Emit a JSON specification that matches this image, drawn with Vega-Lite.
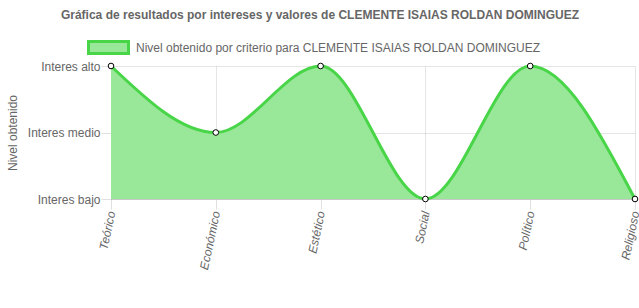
{
  "$schema": "https://vega.github.io/schema/vega-lite/v6.json",
  "width": 524,
  "height": 133,
  "autosize": {"type": "none"},
  "padding": {"left": 111, "top": 66, "right": 4, "bottom": 109},
  "background": "white",
  "title": {
    "text": "Gráfica de resultados por intereses y valores de CLEMENTE ISAIAS ROLDAN DOMINGUEZ",
    "anchor": "middle",
    "dx": -53,
    "offset": 4,
    "font": "Liberation Sans",
    "fontSize": 12,
    "fontWeight": "bold",
    "color": "#666666"
  },
  "data": {
    "values": [
      {"criterio": "Teórico", "nivel": 2, "serie": "Nivel obtenido por criterio para CLEMENTE ISAIAS ROLDAN DOMINGUEZ"},
      {"criterio": "Económico", "nivel": 1, "serie": "Nivel obtenido por criterio para CLEMENTE ISAIAS ROLDAN DOMINGUEZ"},
      {"criterio": "Estético", "nivel": 2, "serie": "Nivel obtenido por criterio para CLEMENTE ISAIAS ROLDAN DOMINGUEZ"},
      {"criterio": "Social", "nivel": 0, "serie": "Nivel obtenido por criterio para CLEMENTE ISAIAS ROLDAN DOMINGUEZ"},
      {"criterio": "Político", "nivel": 2, "serie": "Nivel obtenido por criterio para CLEMENTE ISAIAS ROLDAN DOMINGUEZ"},
      {"criterio": "Religioso", "nivel": 0, "serie": "Nivel obtenido por criterio para CLEMENTE ISAIAS ROLDAN DOMINGUEZ"}
    ]
  },
  "encoding": {
    "x": {
      "field": "criterio",
      "type": "nominal",
      "sort": null,
      "scale": {"type": "point", "padding": 0},
      "axis": {
        "title": null,
        "labelAngle": -78,
        "labelAlign": "right",
        "labelBaseline": "middle",
        "labelFontStyle": "italic",
        "labelPadding": 2,
        "tickSize": 10,
        "tickColor": "#e0e0e0",
        "grid": true,
        "gridColor": "#000000",
        "gridOpacity": 0.1,
        "domainColor": "#c8c8c8"
      }
    },
    "y": {
      "field": "nivel",
      "type": "quantitative",
      "scale": {"domain": [0, 2], "nice": false, "zero": true},
      "axis": {
        "title": "Nivel obtenido",
        "titlePadding": 8,
        "values": [0, 1, 2],
        "labelExpr": "datum.value == 2 ? 'Interes alto' : datum.value == 1 ? 'Interes medio' : 'Interes bajo'",
        "labelPadding": 1,
        "tickSize": 10,
        "tickColor": "#e0e0e0",
        "grid": true,
        "gridColor": "#000000",
        "gridOpacity": 0.1,
        "domainColor": "#a8a8a8"
      }
    }
  },
  "layer": [
    {
      "mark": {"type": "area", "interpolate": "monotone", "opacity": 1},
      "encoding": {
        "color": {
          "field": "serie",
          "type": "nominal",
          "scale": {"range": ["#99e799"]},
          "legend": {
            "title": null,
            "orient": "none",
            "legendX": -24,
            "legendY": -40,
            "symbolType": "M-1,-0.3L1,-0.3L1,0.3L-1,0.3Z",
            "symbolSize": 1600,
            "symbolStrokeColor": "#48d548",
            "symbolStrokeWidth": 3,
            "symbolOpacity": 1,
            "labelOffset": 6,
            "labelFont": "Liberation Sans",
            "labelFontSize": 12,
            "labelColor": "#666666",
            "labelLimit": 600
          }
        }
      }
    },
    {
      "mark": {"type": "line", "interpolate": "monotone", "color": "#48d548", "strokeWidth": 3},
      "encoding": {}
    },
    {
      "mark": {"type": "point", "filled": false, "fill": "white", "fillOpacity": 1, "stroke": "#000000", "strokeWidth": 1, "size": 32, "opacity": 1},
      "encoding": {}
    }
  ],
  "config": {
    "view": {"stroke": null},
    "font": "Liberation Sans",
    "axis": {
      "labelFont": "Liberation Sans",
      "labelFontSize": 12,
      "labelColor": "#666666",
      "titleFont": "Liberation Sans",
      "titleFontSize": 12,
      "titleFontWeight": "normal",
      "titleColor": "#666666"
    }
  }
}
